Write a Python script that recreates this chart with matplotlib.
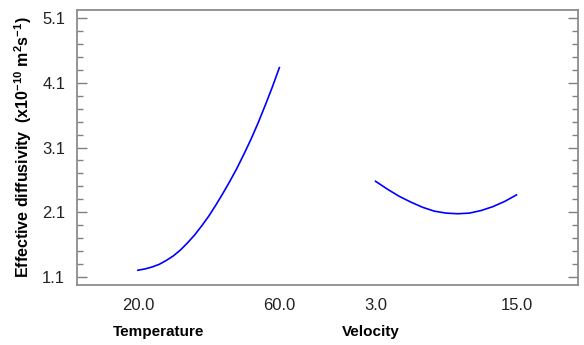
import matplotlib
matplotlib.use("Agg")
import matplotlib.pyplot as plt
from matplotlib.ticker import FixedLocator

plt.rcParams["font.family"] = ["Liberation Sans", "DejaVu Sans"]
plt.rcParams["mathtext.fontset"] = "custom"
plt.rcParams["mathtext.rm"] = "Liberation Sans"
plt.rcParams["mathtext.bf"] = "Liberation Sans:bold"

# Main effects data
temperature = [20, 22, 24, 26, 28, 30, 32, 34, 36, 38, 40, 42, 44, 46, 48, 50, 52, 54, 56, 58, 60]
diff_temp = [1.21, 1.23, 1.26, 1.30, 1.36, 1.43, 1.52, 1.63, 1.75, 1.89, 2.04,
             2.21, 2.39, 2.58, 2.78, 3.00, 3.23, 3.48, 3.75, 4.03, 4.33]

velocity = [3, 4, 5, 6, 7, 8, 9, 10, 11, 12, 13, 14, 15]
diff_vel = [2.58, 2.46, 2.35, 2.26, 2.18, 2.12, 2.09, 2.08, 2.09, 2.13, 2.19, 2.27, 2.37]

temp_ticks = [20.0, 60.0]
vel_ticks = [3.0, 15.0]
y_ticks = [1.1, 2.1, 3.1, 4.1, 5.1]

fig = plt.figure(figsize=(5.84, 3.45), dpi=100)

# frame axes carrying the shared y scale
L, B, W, H = 77 / 584, 60 / 345, 501 / 584, 275 / 345
ax = fig.add_axes([L, B, W, H])
ax.set_ylim(0.983, 5.217)
ax.set_xlim(0, 1)
ax.yaxis.set_major_locator(FixedLocator(y_ticks))
ax.yaxis.set_minor_locator(FixedLocator([1.1 + 0.2 * i for i in range(21)]))
ax.set_yticklabels([f"{v:.1f}" for v in y_ticks])
ax.tick_params(axis="y", which="both", direction="in", left=True, right=True,
               color="#808080", width=1.0)
ax.tick_params(axis="y", which="major", length=7.5, pad=8.5, labelsize=12,
               labelcolor="#222222")
ax.tick_params(axis="y", which="minor", length=4.3)
ax.set_xticks([])
for s in ax.spines.values():
    s.set_color("#8c8c8c")
    s.set_linewidth(1.3)
ax.set_ylabel(r"Effective diffusivity  (x10$^{\mathbf{-10}}$ m$^{\mathbf{2}}$s$^{\mathbf{-1}}$)",
              fontsize=11.5, fontweight="bold", labelpad=6)

# one panel per factor
panels = [
    (temperature, diff_temp, temp_ticks, (2.8, 73.6), L, "Temperature", 159),
    (velocity, diff_vel, vel_ticks, (-1.09, 20.24), L + W / 2, "Velocity", 371),
]
for xs, ys, ticks, lim, left, name, label_x in panels:
    sub = fig.add_axes([left, B, W / 2, H])
    sub.patch.set_alpha(0)
    for s in sub.spines.values():
        s.set_visible(False)
    sub.set_xlim(*lim)
    sub.set_ylim(ax.get_ylim())
    sub.set_yticks([])
    sub.plot(xs, ys, color="#0000ff", linewidth=1.2)
    sub.set_xticks(ticks)
    sub.set_xticklabels([f"{t:.1f}" for t in ticks])
    sub.tick_params(axis="x", length=0, pad=9, labelsize=12, labelcolor="#222222")
    fig.text(label_x / 584, 1 - 332 / 345, name, ha="center", va="center",
             fontsize=11, fontweight="bold")

fig.savefig("out.png", dpi=100)
